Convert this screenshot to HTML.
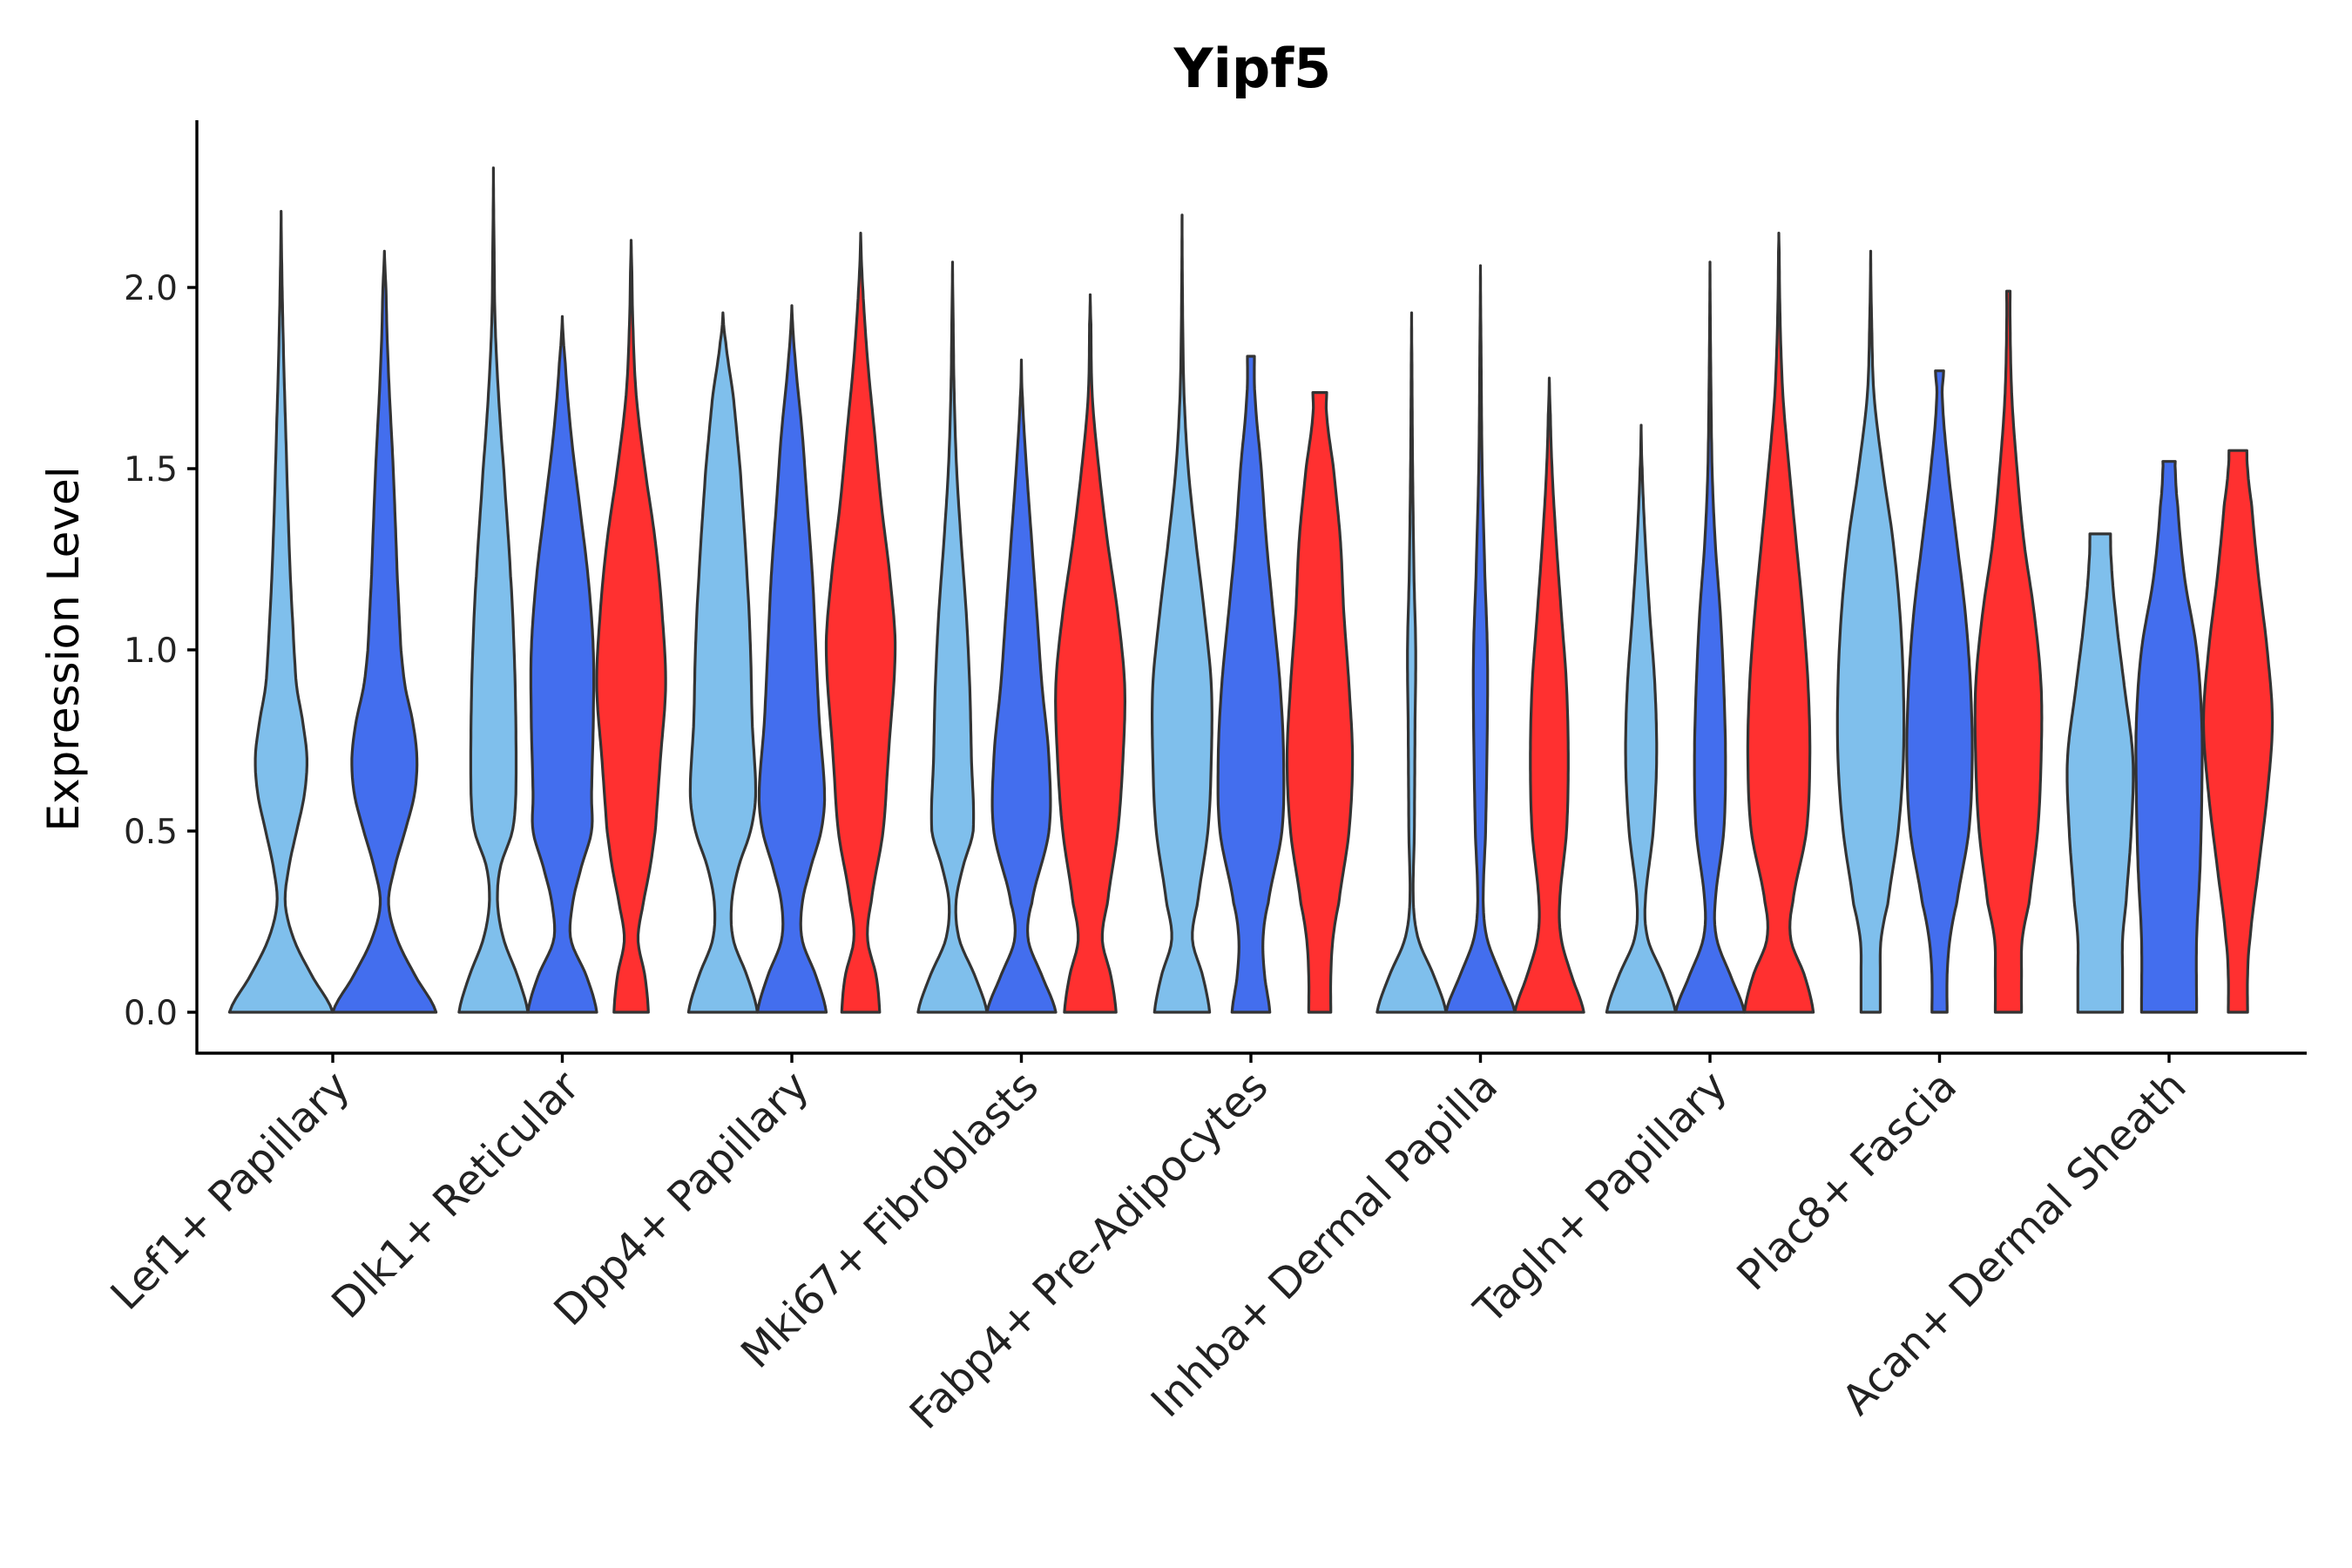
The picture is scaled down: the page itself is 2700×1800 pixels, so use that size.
<!DOCTYPE html>
<html><head><meta charset="utf-8"><style>
html,body{margin:0;padding:0;background:#fff}
svg{display:block}
</style></head><body>
<svg id="chart" width="2700" height="1800" viewBox="0 0 2700 1800" xmlns="http://www.w3.org/2000/svg">
<text x="1438" y="100" text-anchor="middle" font-family="DejaVu Sans, sans-serif" font-weight="bold" font-size="62">Yipf5</text>
<text transform="translate(90,745) rotate(-90)" text-anchor="middle" font-family="DejaVu Sans, sans-serif" font-size="50">Expression Level</text>
<g id="plot"></g>
</svg>
<script>
const categories = ["Lef1+ Papillary","Dlk1+ Reticular","Dpp4+ Papillary","Mki67+ Fibroblasts","Fabp4+ Pre-Adipocytes","Inhba+ Dermal Papilla","Tagln+ Papillary","Plac8+ Fascia","Acan+ Dermal Sheath"];
const seriesColors = ["#7FBFEC","#436EEE","#FF3030"];
const yTicks = [0, 0.5, 1.0, 1.5, 2.0];
const yTickLabels = ["0.0","0.5","1.0","1.5","2.0"];
const violinCat = [0,0, 1,1,1, 2,2,2, 3,3,3, 4,4,4, 5,5,5, 6,6,6, 7,7,7, 8,8,8];
const violinSeries = [0,1, 0,1,2, 0,1,2, 0,1,2, 0,1,2, 0,1,2, 0,1,2, 0,1,2, 0,1,2];
const violinMax = [2.21,2.1, 2.33,1.92,2.13, 1.93,1.95,2.15, 2.07,1.8,1.98, 2.2,1.81,1.71, 1.93,2.06,1.75, 1.62,2.07,2.15, 2.1,1.77,1.99, 1.32,1.52,1.55];
const profY = [
[0,0.1,0.2,0.3,0.4,0.5,0.6,0.7,0.8,0.9,1.0,1.2,1.4,1.6,1.8,2.0],
[0,0.1,0.2,0.3,0.4,0.5,0.6,0.7,0.8,0.9,1.0,1.2,1.5,1.8,2.0],
[0,0.1,0.2,0.3,0.4,0.5,0.6,0.8,1.0,1.2,1.5,1.7,1.9,2.1],
[0,0.1,0.2,0.3,0.4,0.5,0.6,0.8,1.0,1.2,1.4,1.6,1.8],
[0,0.1,0.2,0.3,0.4,0.5,0.7,0.9,1.1,1.3,1.5,1.7,1.9,2.05],
[0,0.1,0.2,0.3,0.4,0.5,0.6,0.8,1.0,1.2,1.5,1.7,1.85],
[0,0.1,0.2,0.3,0.4,0.5,0.6,0.8,1.0,1.2,1.4,1.6,1.8],
[0,0.1,0.2,0.3,0.5,0.7,1.0,1.2,1.4,1.6,1.8,2.0],
[0,0.1,0.2,0.3,0.4,0.5,0.7,0.9,1.1,1.3,1.5,1.7,1.9],
[0,0.1,0.2,0.3,0.5,0.7,0.9,1.1,1.3,1.5,1.7],
[0,0.1,0.2,0.3,0.5,0.7,0.9,1.1,1.3,1.5,1.7,1.9],
[0,0.1,0.2,0.3,0.5,0.7,0.9,1.1,1.3,1.5,1.7,1.9],
[0,0.1,0.2,0.3,0.5,0.7,0.9,1.1,1.3,1.5,1.7],
[0,0.1,0.2,0.3,0.5,0.7,0.9,1.1,1.3,1.5,1.65],
[0,0.1,0.2,0.3,0.5,0.8,1.0,1.2,1.5,1.8],
[0,0.1,0.2,0.3,0.5,0.8,1.0,1.2,1.5,1.8],
[0,0.1,0.2,0.3,0.5,0.7,0.9,1.1,1.3,1.5,1.65],
[0,0.1,0.2,0.3,0.5,0.7,0.9,1.1,1.3,1.5],
[0,0.1,0.2,0.3,0.5,0.7,0.9,1.1,1.3,1.5,1.8],
[0,0.1,0.2,0.3,0.5,0.7,0.9,1.1,1.3,1.5,1.7,1.9,2.1],
[0,0.1,0.2,0.3,0.5,0.7,0.9,1.1,1.3,1.5,1.7,1.9],
[0,0.1,0.2,0.3,0.5,0.7,0.9,1.1,1.3,1.5,1.7],
[0,0.1,0.2,0.3,0.5,0.7,0.9,1.1,1.3,1.5,1.7,1.9],
[0,0.1,0.2,0.3,0.5,0.7,0.9,1.1,1.25],
[0,0.2,0.4,0.6,0.8,1.0,1.2,1.4,1.5],
[0,0.1,0.2,0.4,0.6,0.8,1.0,1.2,1.4,1.5]
];
const profW = [
[1.0,0.6,0.25,0.08,0.15,0.3,0.45,0.5,0.42,0.3,0.25,0.18,0.13,0.09,0.05,0.02],
[1.0,0.6,0.25,0.08,0.2,0.4,0.58,0.63,0.55,0.4,0.32,0.25,0.17,0.07,0.03],
[1.0,0.7,0.3,0.12,0.2,0.55,0.65,0.65,0.6,0.5,0.3,0.15,0.05,0.02],
[1.0,0.7,0.25,0.3,0.55,0.85,0.85,0.9,0.9,0.75,0.5,0.25,0.08],
[0.5,0.4,0.2,0.35,0.55,0.7,0.85,1.0,0.9,0.7,0.4,0.15,0.05,0.02],
[1.0,0.7,0.3,0.25,0.45,0.8,0.95,0.85,0.8,0.7,0.5,0.3,0.08],
[1.0,0.7,0.3,0.3,0.55,0.85,0.95,0.8,0.7,0.6,0.45,0.3,0.1],
[0.55,0.45,0.2,0.3,0.65,0.8,1.0,0.85,0.6,0.4,0.2,0.06],
[1.0,0.65,0.2,0.1,0.3,0.6,0.55,0.5,0.4,0.25,0.12,0.05,0.02],
[1.0,0.6,0.2,0.3,0.8,0.8,0.6,0.45,0.3,0.15,0.03],
[0.75,0.6,0.35,0.5,0.8,0.95,1.0,0.8,0.5,0.25,0.06,0.02],
[0.8,0.6,0.3,0.45,0.75,0.85,0.85,0.65,0.4,0.18,0.06,0.02],
[0.55,0.4,0.35,0.5,0.9,0.95,0.85,0.65,0.45,0.3,0.12],
[0.32,0.32,0.38,0.55,0.85,0.95,0.85,0.7,0.6,0.4,0.2],
[1.0,0.65,0.2,0.05,0.08,0.1,0.12,0.07,0.03,0.01],
[1.0,0.6,0.2,0.08,0.15,0.2,0.2,0.13,0.05,0.02],
[1.0,0.65,0.35,0.3,0.5,0.55,0.5,0.35,0.2,0.08,0.03],
[1.0,0.65,0.2,0.12,0.35,0.45,0.4,0.25,0.12,0.03],
[1.0,0.6,0.2,0.15,0.4,0.45,0.4,0.3,0.15,0.06,0.02],
[1.0,0.75,0.35,0.4,0.8,0.9,0.85,0.7,0.5,0.3,0.12,0.04,0.01],
[0.28,0.28,0.3,0.5,0.8,0.95,0.95,0.85,0.65,0.35,0.1,0.03],
[0.22,0.22,0.3,0.5,0.85,0.95,0.9,0.75,0.5,0.25,0.08],
[0.38,0.38,0.4,0.6,0.85,0.95,0.95,0.75,0.45,0.25,0.1,0.05],
[0.65,0.65,0.65,0.75,0.9,0.95,0.7,0.45,0.32],
[0.8,0.8,0.9,0.95,0.95,0.8,0.45,0.25,0.18],
[0.28,0.28,0.35,0.6,0.85,1.0,0.85,0.6,0.4,0.28]
];
const violinTopW = [0,0, 0,0,0, 0,0,0, 0,0,0, 0,0.1,0.2, 0,0,0, 0,0,0, 0,0.12,0.05, 0.3,0.18,0.26];

const NS = "http://www.w3.org/2000/svg";
const plot = document.getElementById('plot');
const X0 = 226, X1 = 2648, YB = 1209, YT = 138;
const y0px = 1162, unitPx = 416;
function yScale(v){ return y0px - v*unitPx; }
const catStart = 382, catStep = 263.5;
function xScale(i){ return catStart + i*catStep; }
function mk(tag, attrs){ const e=document.createElementNS(NS,tag); for(const k in attrs) e.setAttribute(k,attrs[k]); return e; }

const nPer = categories.map((c,i)=>violinCat.filter(v=>v===i).length);

function halfW(idx, y){
  const ys = profY[idx], ws = profW[idx], mx = violinMax[idx];
  const Y = ys.concat([mx]), W = ws.concat([violinTopW[idx]]);
  if (y<=Y[0]) return W[0];
  for(let k=0;k<Y.length-1;k++){
    if (y>=Y[k] && y<=Y[k+1]){
      const t=(y-Y[k])/(Y[k+1]-Y[k]);
      const p0=W[Math.max(0,k-1)], p1=W[k], p2=W[k+1], p3=W[Math.min(W.length-1,k+2)];
      const t2=t*t,t3=t2*t;
      const v=0.5*((2*p1)+(-p0+p2)*t+(2*p0-5*p1+4*p2-p3)*t2+(-p0+3*p1-3*p2+p3)*t3);
      return Math.max(0,v);
    }
  }
  return W[W.length-1];
}

violinMax.forEach((mx, idx)=>{
  const c = violinCat[idx], s = violinSeries[idx];
  const n = nPer[c];
  const slot = catStep*0.9/n;
  const pos = violinCat.slice(0,idx).filter(v=>v===c).length;
  const cx = xScale(c) - catStep*0.45 + slot*(pos+0.5);
  const hw = slot/2;
  const N = 120;
  const right=[], left=[];
  for(let k=0;k<=N;k++){
    const y = mx*k/N;
    const w = halfW(idx,y)*hw;
    right.push([cx+w, yScale(y)]);
    left.push([cx-w, yScale(y)]);
  }
  let d = "M"+left[0][0].toFixed(1)+","+left[0][1].toFixed(1);
  right.forEach(p=>{ d += " L"+p[0].toFixed(1)+","+p[1].toFixed(1); });
  left.slice().reverse().forEach(p=>{ d += " L"+p[0].toFixed(1)+","+p[1].toFixed(1); });
  d += " Z";
  const path = mk('path',{d:d, fill:seriesColors[s], stroke:'#333333','stroke-width':3.2,'stroke-linejoin':'round'});
  
  
  plot.appendChild(path);
});

const yAxis = mk('line',{x1:X0,y1:YT,x2:X0,y2:YB+1.5,stroke:'#000','stroke-width':3.4});


plot.appendChild(yAxis);
const xAxis = mk('line',{x1:X0-1.5,y1:YB,x2:X1,y2:YB,stroke:'#000','stroke-width':3.4});


plot.appendChild(xAxis);

yTicks.forEach((v,i)=>{
  const y=yScale(v);
  const t = mk('line',{x1:X0-11,y1:y,x2:X0,y2:y,stroke:'#000','stroke-width':3.4});
  
  
  plot.appendChild(t);
  const lab = mk('text',{x:X0-22,y:y+14,'text-anchor':'end','font-family':'DejaVu Sans, sans-serif','font-size':39,fill:'#222'});
  lab.textContent = yTickLabels[i];
  
  
  plot.appendChild(lab);
});

categories.forEach((c,i)=>{
  const x=xScale(i);
  const t = mk('line',{x1:x,y1:YB,x2:x,y2:YB+11,stroke:'#000','stroke-width':3.4});
  
  
  plot.appendChild(t);
  const lab = mk('text',{transform:'translate('+(x+22)+',1250) rotate(-45)','text-anchor':'end','font-family':'DejaVu Sans, sans-serif','font-size':48,fill:'#222'});
  lab.textContent = c;
  
  
  plot.appendChild(lab);
});
</script>
</body></html>
